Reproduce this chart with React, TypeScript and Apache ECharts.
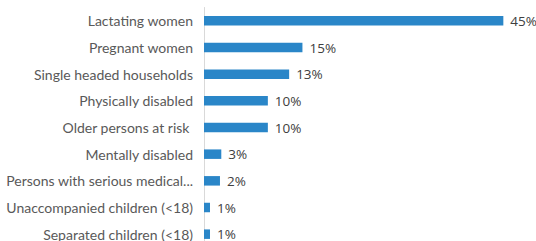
import React, { useEffect, useRef } from "react";
import * as echarts from "echarts";

const categories = [
  "Lactating women",
  "Pregnant women",
  "Single headed households",
  "Physically disabled",
  "Older persons at risk ",
  "Mentally disabled",
  "Persons with serious medical...",
  "Unaccompanied children (<18)",
  "Separated children (<18)",
];
const values = [45, 14.8, 12.8, 9.6, 9.6, 2.6, 2.4, 0.9, 0.9];
const xMax = 50;

export default function App() {
  const ref = useRef<HTMLDivElement>(null);
  useEffect(() => {
    const chart = echarts.init(ref.current!, null, { renderer: "svg" });
    chart.setOption({
      animation: false,
      grid: {
        left: 204,
        top: 7.5,
        width: 332.6,
        height: 240,
        containLabel: false,
        outerBoundsMode: "none",
      },
      xAxis: {
        type: "value",
        min: 0,
        max: xMax,
        show: false,
      },
      yAxis: {
        type: "category",
        inverse: true,
        data: categories,
        axisLine: { show: true, lineStyle: { color: "#d9d9d9", width: 1 } },
        axisTick: { show: false },
        axisLabel: {
          margin: 11,
          color: "#595959",
          fontSize: 14,
          fontFamily: "Lato",
          padding: [0, 0, 3, 0],
        },
      },
      series: [
        {
          type: "bar",
          data: values,
          barWidth: 9.5,
          itemStyle: { color: "#2a86c8" },
          label: {
            show: true,
            position: "right",
            distance: 7,
            color: "#404040",
            fontSize: 13.5,
            fontFamily: "Open Sans",
            padding: [0, 0, 2, 0],
            formatter: (p: any) => Math.round(p.value) + "%",
          },
        },
      ],
    });
    return () => chart.dispose();
  }, []);
  return (
    <div
      ref={ref}
      style={{ position: "fixed", left: 0, top: 0, width: 536, height: 241, background: "#fff" }}
    />
  );
}
